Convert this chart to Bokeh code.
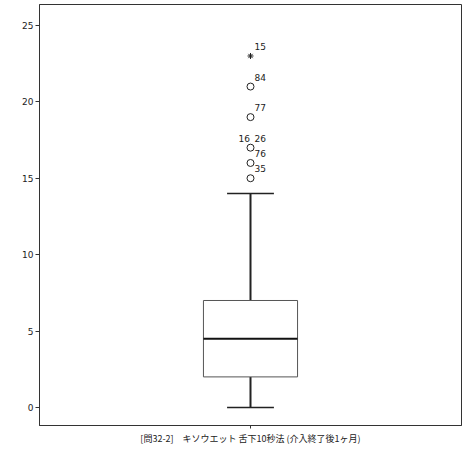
from bokeh.plotting import figure
from bokeh.models import Range1d, FixedTicker, ColumnDataSource
from bokeh.embed import file_html
from bokeh.resources import INLINE
from bokeh.core.properties import value

# ---- data ----
category = "[問32-2]　キソウエット 舌下10秒法 (介入終了後1ヶ月)"
q1 = 2.0
median = 4.5
q3 = 7.0
whisker_low = 0.0
whisker_high = 14.0
outlier_values = [15, 16, 17, 17, 19, 21]
outlier_labels = ["35", "76", "16", "26", "77", "84"]
outlier_label_side = ["right", "right", "left", "right", "right", "right"]
extreme_values = [23]
extreme_labels = ["15"]
y_ticks = [0, 5, 10, 15, 20, 25]

xc = 1.0
p = figure(width=470, height=449, output_backend="svg", toolbar_location=None,
           x_range=Range1d(0.5, 1.5), y_range=Range1d(-1.18, 26.37),
           min_border_left=39, min_border_right=9, min_border_top=4, min_border_bottom=24)
p.background_fill_color = "white"
p.border_fill_color = "white"
p.xgrid.visible = False
p.ygrid.visible = False
p.outline_line_color = "#333333"
p.outline_line_width = 1

# axes
p.yaxis.ticker = FixedTicker(ticks=y_ticks)
p.yaxis.minor_tick_line_color = None
p.yaxis.major_tick_out = 4
p.yaxis.major_tick_in = 0
p.yaxis.major_label_text_font = "DejaVu Sans"
p.yaxis.major_label_text_font_size = "9px"
p.yaxis.major_label_text_color = "#222222"
p.yaxis.major_label_standoff = 2
p.yaxis.axis_line_color = "#333333"
p.yaxis.major_tick_line_color = "#333333"

p.xaxis.ticker = FixedTicker(ticks=[xc])
p.xaxis.major_label_overrides = {xc: category}
p.xaxis.minor_tick_line_color = None
p.xaxis.major_tick_out = 3
p.xaxis.major_tick_in = 0
p.xaxis.major_label_text_font = "Noto Sans CJK JP"
p.xaxis.major_label_text_font_size = "9px"
p.xaxis.major_label_text_color = "#222222"
p.xaxis.major_label_standoff = 3
p.xaxis.axis_line_color = "#333333"
p.xaxis.major_tick_line_color = "#333333"

box_w = 0.223
cap_w = 0.111

# whiskers
p.segment(x0=[xc, xc], y0=[q3, q1], x1=[xc, xc], y1=[whisker_high, whisker_low],
          line_color="#222222", line_width=2)
p.segment(x0=[xc - cap_w / 2] * 2, y0=[whisker_high, whisker_low],
          x1=[xc + cap_w / 2] * 2, y1=[whisker_high, whisker_low],
          line_color="#222222", line_width=1.5)
# box
p.quad(left=[xc - box_w / 2], right=[xc + box_w / 2], bottom=[q1], top=[q3],
       fill_color="white", line_color="#555555", line_width=1)
# median
p.segment(x0=[xc - box_w / 2], y0=[median], x1=[xc + box_w / 2], y1=[median],
          line_color="#111111", line_width=2)

# outliers
uniq = sorted(set(outlier_values))
p.scatter(x=[xc] * len(uniq), y=uniq, marker="circle", size=7,
          fill_color="white", line_color="#222222", line_width=1)
p.scatter(x=[xc] * len(extreme_values), y=extreme_values, marker="asterisk", size=6,
          line_color="#222222", line_width=1)

rx = [xc] * len(outlier_values)
xoff = [4 if s == "right" else -12 for s in outlier_label_side]
p.text(x=rx, y=outlier_values, text=outlier_labels, x_offset=xoff, y_offset=-6,
       text_font=value("DejaVu Sans"), text_font_size="9px", text_color="#222222",
       text_baseline="bottom")
p.text(x=[xc] * len(extreme_values), y=extreme_values, text=extreme_labels,
       x_offset=4, y_offset=-6, text_font=value("DejaVu Sans"), text_font_size="9px",
       text_color="#222222", text_baseline="bottom")

open("out.html", "w").write(file_html(p, INLINE))
